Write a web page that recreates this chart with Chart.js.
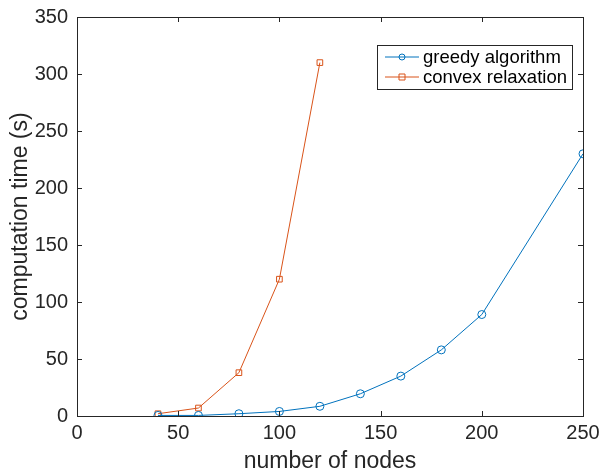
<!DOCTYPE html>
<html lang="en">
<head>
  <meta charset="UTF-8" />
  <title>Computation time vs number of nodes</title>
  <script src="https://cdn.jsdelivr.net/npm/chart.js"></script>
  <style>
    html, body { margin: 0; padding: 0; background: #fff; }
    #wrap { width: 599px; height: 471px; }
  </style>
</head>
<body>
  <div id="wrap"><canvas id="timeChart" width="599" height="471"></canvas></div>
  <script>
    // data
    const greedyNodes = [40, 60, 80, 100, 120, 140, 160, 180, 200, 250];
    const greedyTime = [0.5, 0.5, 2, 4, 8.5, 19.5, 35, 58, 89, 230];
    const convexNodes = [40, 60, 80, 100, 120];
    const convexTime = [2, 7, 38, 120, 310];
    const xTicks = [0, 50, 100, 150, 200, 250];
    const yTicks = [0, 50, 100, 150, 200, 250, 300, 350];

    const blue = '#0072BD';
    const orange = '#D95319';
    const axisColor = '#262626';
    const fontFamily = 'Liberation Sans, Arial, Helvetica, sans-serif';

    const toPoints = (xs, ys) => xs.map((x, i) => ({ x: x, y: ys[i] }));

    // MATLAB style box with inward ticks + legend inside the axes
    const boxPlugin = {
      id: 'matlabBox',
      afterDraw(chart) {
        const { ctx, chartArea: a, scales } = chart;
        ctx.save();
        ctx.strokeStyle = axisColor;
        ctx.lineWidth = 1;
        ctx.strokeRect(Math.round(a.left) + 0.5, Math.round(a.top) + 0.5,
          Math.round(a.right - a.left), Math.round(a.bottom - a.top));
        const t = 5;
        ctx.beginPath();
        xTicks.forEach(v => {
          const px = Math.round(scales.x.getPixelForValue(v)) + 0.5;
          ctx.moveTo(px, a.bottom); ctx.lineTo(px, a.bottom - t);
          ctx.moveTo(px, a.top); ctx.lineTo(px, a.top + t);
        });
        yTicks.forEach(v => {
          const py = Math.round(scales.y.getPixelForValue(v)) + 0.5;
          ctx.moveTo(a.left, py); ctx.lineTo(a.left + t, py);
          ctx.moveTo(a.right, py); ctx.lineTo(a.right - t, py);
        });
        ctx.stroke();

        // legend
        const lx = 377, ly = 45, lw = 195, lh = 44;
        ctx.fillStyle = '#fff';
        ctx.fillRect(lx, ly, lw, lh);
        ctx.strokeStyle = axisColor;
        ctx.strokeRect(lx + 0.5, ly + 0.5, lw, lh);
        ctx.font = '18.5px ' + fontFamily;
        ctx.textBaseline = 'middle';
        chart.data.datasets.forEach((ds, i) => {
          const y = ly + 12 + i * 20;
          ctx.strokeStyle = ds.borderColor;
          ctx.beginPath();
          ctx.moveTo(lx + 8, y); ctx.lineTo(lx + 42, y);
          ctx.stroke();
          ctx.beginPath();
          if (ds.pointStyle === 'rect') {
            ctx.rect(lx + 22, y - 3, 6, 6);
          } else {
            ctx.arc(lx + 25, y, 3, 0, Math.PI * 2);
          }
          ctx.stroke();
          ctx.fillStyle = '#000';
          ctx.fillText(ds.label, lx + 46, y + 1);
        });
        ctx.restore();
      }
    };

    new Chart(document.getElementById('timeChart'), {
      type: 'line',
      data: {
        datasets: [
          {
            label: 'greedy algorithm',
            data: toPoints(greedyNodes, greedyTime),
            borderColor: blue,
            backgroundColor: 'rgba(0,0,0,0)',
            borderWidth: 1,
            pointStyle: 'circle',
            pointRadius: 4,
            pointBorderWidth: 1,
            pointBorderColor: blue,
            pointBackgroundColor: 'rgba(0,0,0,0)',
            tension: 0
          },
          {
            label: 'convex relaxation',
            data: toPoints(convexNodes, convexTime),
            borderColor: orange,
            backgroundColor: 'rgba(0,0,0,0)',
            borderWidth: 1,
            pointStyle: 'rect',
            pointRadius: 4,
            pointBorderWidth: 1,
            pointBorderColor: orange,
            pointBackgroundColor: 'rgba(0,0,0,0)',
            tension: 0
          }
        ]
      },
      options: {
        responsive: false,
        animation: false,
        layout: { padding: { top: 17, right: 16, left: 0, bottom: 0 } },
        plugins: {
          legend: { display: false },
          tooltip: { enabled: false }
        },
        scales: {
          x: {
            type: 'linear',
            min: 0, max: 250,
            afterBuildTicks: s => { s.ticks = xTicks.map(v => ({ value: v })); },
            afterFit: s => { s.height = 55; s.paddingLeft = 0; s.paddingRight = 0; },
            grid: { display: false, drawTicks: false },
            border: { display: false },
            ticks: { color: axisColor, font: { family: fontFamily, size: 20 }, padding: 5, maxRotation: 0 },
            title: { display: true, text: 'number of nodes', color: axisColor,
              font: { family: fontFamily, size: 23, lineHeight: 1 }, padding: { top: 0, bottom: -2 } }
          },
          y: {
            min: 0, max: 350,
            afterBuildTicks: s => { s.ticks = yTicks.map(v => ({ value: v })); },
            afterFit: s => { s.width = 77; s.paddingTop = 0; s.paddingBottom = 0; },
            grid: { display: false, drawTicks: false },
            border: { display: false },
            ticks: { color: axisColor, font: { family: fontFamily, size: 20 }, padding: 9 },
            title: { display: true, text: 'computation time (s)', color: axisColor,
              font: { family: fontFamily, size: 23, lineHeight: 1 }, padding: { top: 9, bottom: 0 } }
          }
        }
      },
      plugins: [boxPlugin]
    });
  </script>
</body>
</html>
